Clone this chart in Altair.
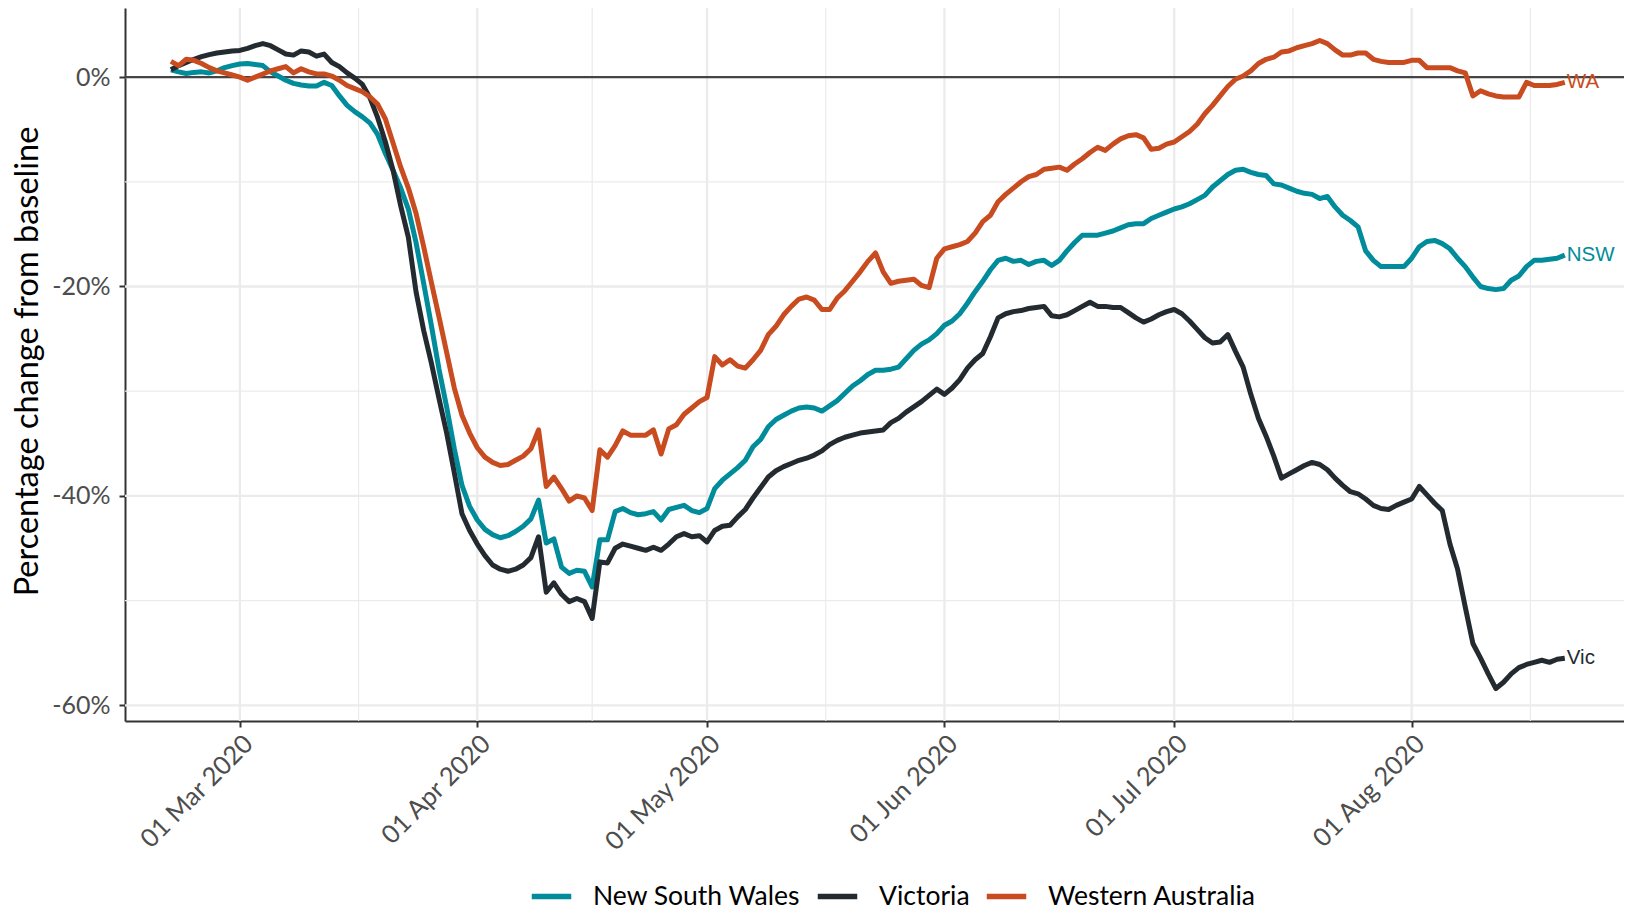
import altair as alt
import pandas as pd

# ---------------- data ----------------
start_date = "2020-02-21"          # first daily observation
states = ["New South Wales", "Victoria", "Western Australia"]
short_labels = ["NSW", "Vic", "WA"]
colors = ["#008C9B", "#242B30", "#C94B20"]

nsw = [
    0.7, 0.5, 0.35, 0.45, 0.5, 0.4, 0.6, 0.9, 1.1, 1.25,
    1.3, 1.2, 1.1, 0.5, 0.1, -0.3, -0.6, -0.75, -0.85, -0.85,
    -0.5, -0.8, -1.8, -2.7, -3.3, -3.8, -4.4, -5.5, -7.3, -8.9,
    -10.6, -12.6, -15.8, -19.7, -23.7, -27.9, -31.5, -35.5, -39.0, -41.0,
    -42.3, -43.2, -43.7, -44.0, -43.8, -43.4, -42.9, -42.2, -40.4, -44.5,
    -44.1, -46.8, -47.4, -47.1, -47.2, -48.7, -44.2, -44.2, -41.5, -41.2,
    -41.6, -41.8, -41.7, -41.5, -42.3, -41.3, -41.1, -40.9, -41.4, -41.6,
    -41.2, -39.3, -38.5, -37.9, -37.3, -36.6, -35.3, -34.6, -33.4, -32.7,
    -32.3, -31.9, -31.6, -31.5, -31.6, -31.9, -31.4, -30.9, -30.2, -29.5,
    -29.0, -28.4, -28.0, -28.0, -27.9, -27.7, -26.9, -26.1, -25.5, -25.1,
    -24.5, -23.7, -23.3, -22.6, -21.6, -20.5, -19.5, -18.4, -17.5, -17.3,
    -17.6, -17.5, -17.9, -17.6, -17.5, -18.0, -17.5, -16.6, -15.8, -15.1,
    -15.1, -15.1, -14.9, -14.7, -14.4, -14.1, -14.0, -14.0, -13.5, -13.2,
    -12.9, -12.6, -12.4, -12.1, -11.7, -11.3, -10.5, -9.9, -9.3, -8.9,
    -8.8, -9.1, -9.3, -9.4, -10.2, -10.3, -10.6, -10.9, -11.1, -11.2,
    -11.6, -11.4, -12.4, -13.2, -13.7, -14.3, -16.6, -17.5, -18.1, -18.1,
    -18.1, -18.1, -17.3, -16.2, -15.7, -15.6, -15.9, -16.4, -17.3, -18.1,
    -19.1, -20.0, -20.2, -20.3, -20.2, -19.4, -19.0, -18.1, -17.5, -17.5,
    -17.4, -17.3, -17.0,
]

vic = [
    0.7, 1.1, 1.4, 1.7, 1.95, 2.15, 2.3, 2.4, 2.5, 2.55,
    2.75, 3.0, 3.2, 3.0, 2.6, 2.2, 2.1, 2.5, 2.4, 2.0,
    2.2, 1.4, 1.0, 0.4, -0.1, -0.7, -2.0, -3.9, -6.2, -8.9,
    -12.3, -15.3, -20.5, -24.2, -27.3, -30.7, -34.0, -37.8, -41.7, -43.3,
    -44.6, -45.7, -46.6, -47.0, -47.2, -47.0, -46.6, -45.9, -43.9, -49.2,
    -48.3, -49.4, -50.1, -49.8, -50.1, -51.7, -46.3, -46.4, -45.0, -44.6,
    -44.8, -45.0, -45.2, -44.9, -45.2, -44.6, -43.9, -43.6, -43.9, -43.8,
    -44.4, -43.3, -42.9, -42.8, -42.0, -41.3, -40.2, -39.2, -38.2, -37.6,
    -37.2, -36.9, -36.6, -36.4, -36.1, -35.7, -35.1, -34.7, -34.4, -34.2,
    -34.0, -33.9, -33.8, -33.7, -33.0, -32.6, -32.0, -31.5, -31.0, -30.4,
    -29.8, -30.3, -29.7, -28.9, -27.8, -27.0, -26.4, -24.8, -23.0, -22.6,
    -22.4, -22.3, -22.1, -22.0, -21.9, -22.8, -22.9, -22.7, -22.3, -21.9,
    -21.5, -21.9, -21.9, -22.0, -22.0, -22.5, -23.0, -23.4, -23.1, -22.7,
    -22.4, -22.2, -22.6, -23.3, -24.1, -24.9, -25.4, -25.3, -24.6, -26.2,
    -27.7, -30.3, -32.6, -34.3, -36.2, -38.3, -37.9, -37.5, -37.1, -36.8,
    -37.0, -37.5, -38.3, -39.0, -39.6, -39.8, -40.3, -40.9, -41.2, -41.3,
    -40.9, -40.6, -40.3, -39.1, -39.9, -40.7, -41.4, -44.6, -47.0, -50.6,
    -54.1, -55.5, -57.0, -58.4, -57.8, -57.0, -56.4, -56.1, -55.9, -55.7,
    -55.9, -55.6, -55.5,
]

wa = [
    1.5, 1.1, 1.7, 1.6, 1.3, 0.9, 0.6, 0.4, 0.2, 0.0,
    -0.3, 0.0, 0.3, 0.6, 0.8, 1.0, 0.4, 0.8, 0.5, 0.3,
    0.3, 0.1, -0.3, -0.8, -1.1, -1.4, -1.9, -2.6, -4.0, -6.3,
    -8.6, -10.6, -13.0, -16.2, -19.6, -22.9, -26.3, -29.7, -32.3, -34.0,
    -35.4, -36.3, -36.8, -37.1, -37.0, -36.6, -36.2, -35.5, -33.7, -39.1,
    -38.2, -39.3, -40.5, -40.0, -40.2, -41.4, -35.6, -36.3, -35.2, -33.8,
    -34.2, -34.2, -34.2, -33.7, -36.0, -33.6, -33.2, -32.2, -31.6, -31.0,
    -30.6, -26.7, -27.5, -27.0, -27.6, -27.8, -27.0, -26.1, -24.6, -23.8,
    -22.7, -21.9, -21.2, -21.0, -21.3, -22.2, -22.2, -21.1, -20.4, -19.5,
    -18.6, -17.6, -16.8, -18.6, -19.7, -19.5, -19.4, -19.3, -19.9, -20.1,
    -17.3, -16.4, -16.2, -16.0, -15.7, -14.9, -13.8, -13.2, -11.9, -11.2,
    -10.6, -10.0, -9.5, -9.3, -8.8, -8.7, -8.6, -8.9, -8.3, -7.8,
    -7.2, -6.7, -7.0, -6.4, -5.9, -5.6, -5.5, -5.8, -6.9, -6.8,
    -6.4, -6.2, -5.7, -5.2, -4.5, -3.5, -2.7, -1.8, -0.9, -0.2,
    0.1, 0.6, 1.3, 1.7, 1.9, 2.4, 2.5, 2.8, 3.0, 3.2,
    3.5, 3.2, 2.6, 2.1, 2.1, 2.3, 2.3, 1.7, 1.5, 1.4,
    1.4, 1.4, 1.6, 1.6, 0.9, 0.9, 0.9, 0.9, 0.6, 0.4,
    -1.8, -1.3, -1.6, -1.8, -1.9, -1.9, -1.9, -0.5, -0.8, -0.8,
    -0.8, -0.7, -0.5,
]

# axis / grid positions
major_x = [alt.DateTime(year=2020, month=m, date=1) for m in [3, 4, 5, 6, 7, 8]]
major_x_str = ["2020-03-01T00:00:00", "2020-04-01T00:00:00", "2020-05-01T00:00:00",
               "2020-06-01T00:00:00", "2020-07-01T00:00:00", "2020-08-01T00:00:00"]
minor_x_str = ["2020-03-16T12:00:00", "2020-04-16T00:00:00", "2020-05-16T12:00:00",
               "2020-06-16T00:00:00", "2020-07-16T12:00:00", "2020-08-16T12:00:00"]
major_y = [-60, -40, -20, 0]
minor_y = [-50, -30, -10]

# ---------------- tables ----------------
dates = pd.date_range(start_date, periods=len(nsw), freq="D")
date_str = [d.strftime("%Y-%m-%dT00:00:00") for d in dates]

rows = []
for state, vals in zip(states, [nsw, vic, wa]):
    for ds, v in zip(date_str, vals):
        rows.append({"date": ds, "state": state, "value": v})
df = pd.DataFrame(rows)

lab_df = pd.DataFrame({
    "date": [date_str[-1]] * 3,
    "value": [nsw[-1], vic[-1], wa[-1]],
    "label": short_labels,
    "col": colors,
})

gx_major = pd.DataFrame({"date": major_x_str})
gx_minor = pd.DataFrame({"date": minor_x_str})
gy_major = pd.DataFrame({"value": major_y})
gy_minor = pd.DataFrame({"value": minor_y})
zero_df = pd.DataFrame({"value": [0]})

# ---------------- scales / axes ----------------
x_scale = alt.Scale(
    domain=[alt.DateTime(year=2020, month=2, date=15),
            alt.DateTime(year=2020, month=8, date=28, hours=17, minutes=30)],
    nice=False,
)
y_scale = alt.Scale(domain=[-61.5, 6.6], nice=False, zero=False)

x_axis = alt.Axis(
    values=major_x, format="%d %b %Y", labelAngle=315, labelAlign="right",
    labelBaseline="top", labelFont="Lato", labelFontSize=25.5, labelColor="#4D4D4D",
    labelPadding=4, labelFlush=False, labelOverlap=False,
    tickColor="#333333", tickWidth=2, tickSize=6,
    domainColor="#333333", domainWidth=2, grid=False,
)
y_axis = alt.Axis(
    values=major_y, labelExpr="datum.value + '%'", labelFont="Lato",
    labelFontSize=25, labelColor="#4D4D4D", labelPadding=9,
    tickColor="#333333", tickWidth=2, tickSize=6,
    domainColor="#333333", domainWidth=2, grid=False,
    title="Percentage change from baseline", titleFont="Lato", titleFontSize=32.5,
    titleFontWeight="normal", titleColor="#000000", titleX=-81, titleY=353,
)

X = alt.X("date:T", scale=x_scale, axis=x_axis, title=None)
Y = alt.Y("value:Q", scale=y_scale, axis=y_axis, title="Percentage change from baseline")

grid_col = "#EBEBEB"
g1 = alt.Chart(gx_minor).mark_rule(color=grid_col, strokeWidth=1.2).encode(x=X)
g2 = alt.Chart(gy_minor).mark_rule(color=grid_col, strokeWidth=1.2).encode(y=Y)
g3 = alt.Chart(gx_major).mark_rule(color=grid_col, strokeWidth=2.3).encode(x=X)
g4 = alt.Chart(gy_major).mark_rule(color=grid_col, strokeWidth=2.3).encode(y=Y)
zero = alt.Chart(zero_df).mark_rule(color="#454545", strokeWidth=2.3).encode(y=Y)

lines = alt.Chart(df).mark_line(strokeWidth=5, strokeJoin="round", strokeCap="butt").encode(
    x=X,
    y=Y,
    color=alt.Color(
        "state:N",
        scale=alt.Scale(domain=states, range=colors),
        legend=alt.Legend(
            title=None, orient="none", legendX=404, legendY=866, direction="horizontal",
            symbolType="stroke", symbolStrokeWidth=5.5, symbolSize=1560,
            labelFont="Lato", labelFontSize=26.5, labelColor="#000000", labelLimit=600,
            labelOffset=19, columnPadding=5, padding=0,
        ),
    ),
    detail="state:N",
)

labels = alt.Chart(lab_df).mark_text(
    align="left", baseline="middle", dx=2, font="Liberation Sans", fontSize=20.5
).encode(
    x=X, y=Y, text="label:N", color=alt.Color("col:N", scale=None)
)

chart = alt.layer(g1, g2, g3, g4, zero, lines, labels).properties(
    width=1499, height=713,
    padding={"left": 117, "top": 0, "right": 0, "bottom": 184},
    autosize=alt.AutoSizeParams(type="none"),
    background="#FFFFFF",
).configure_view(stroke=None)

chart.save("out.html", embed_options={"renderer": "svg", "actions": False})
